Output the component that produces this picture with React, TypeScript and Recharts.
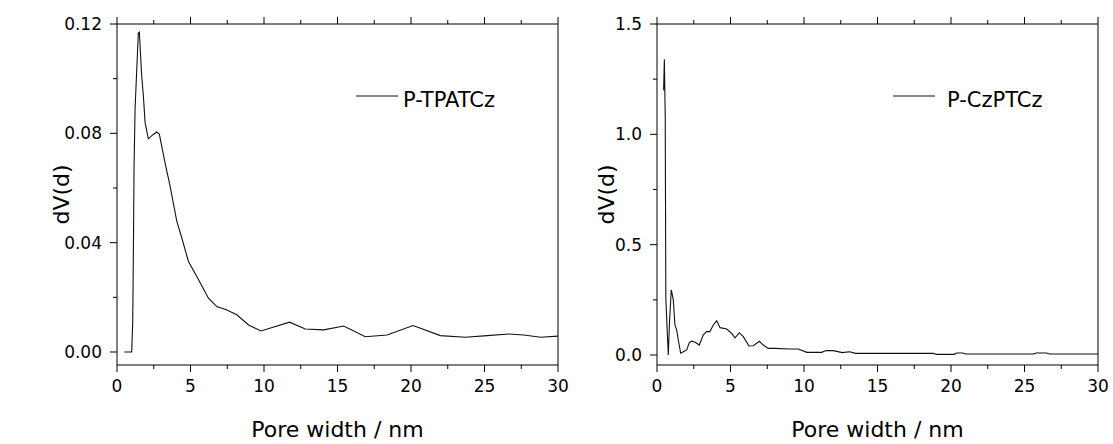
import React from 'react';
import { LineChart, Line, XAxis, YAxis, ReferenceLine, Legend } from 'recharts';

const FONT = '"DejaVu Sans", "Liberation Sans", Arial, sans-serif';

// Left panel: P-TPATCz
const leftPoreWidth = [0.5, 1.0, 1.07, 1.12, 1.16, 1.23, 1.34, 1.45, 1.52, 1.68, 1.79, 1.91, 2.13, 2.45, 2.7, 2.88, 3.04, 3.27, 3.61, 4.07, 4.41, 4.86, 5.43, 6.22, 6.79, 7.47, 8.15, 8.95, 9.79, 11.74, 12.81, 14.06, 15.42, 16.89, 18.37, 20.14, 22.0, 23.7, 25.18, 26.66, 27.68, 28.82, 30];
const leftDv = [0, 0, 0.011, 0.04, 0.068, 0.089, 0.103, 0.1167, 0.117, 0.101, 0.094, 0.084, 0.078, 0.0795, 0.0805, 0.0797, 0.0753, 0.0692, 0.0607, 0.0478, 0.0417, 0.0331, 0.0276, 0.0197, 0.0166, 0.0154, 0.0136, 0.0099, 0.0077, 0.0109, 0.0084, 0.0081, 0.0095, 0.0056, 0.0062, 0.0097, 0.006, 0.0054, 0.006, 0.0066, 0.0062, 0.0054, 0.0058];

// Right panel: P-CzPTCz
const rightPoreWidth = [0.45, 0.5, 0.56, 0.6, 0.7, 0.77, 0.85, 0.97, 1.02, 1.11, 1.22, 1.34, 1.45, 1.61, 1.79, 2.02, 2.2, 2.36, 2.6, 2.88, 3.15, 3.38, 3.6, 3.83, 4.06, 4.29, 4.74, 5.08, 5.31, 5.6, 5.87, 6.26, 6.55, 6.96, 7.23, 7.57, 8.03, 9.05, 9.6, 10.2, 11.2, 11.5, 12.0, 12.6, 13.1, 13.5, 18.8, 19.0, 20.2, 20.4, 20.8, 21.0, 25.6, 25.8, 26.5, 26.7, 30];
const rightDv = [1.2, 1.34, 1.08, 0.26, 0.1, 0.0, 0.15, 0.295, 0.28, 0.249, 0.136, 0.113, 0.068, 0.008, 0.015, 0.023, 0.056, 0.063, 0.058, 0.045, 0.091, 0.106, 0.106, 0.136, 0.155, 0.124, 0.118, 0.098, 0.078, 0.101, 0.083, 0.041, 0.042, 0.062, 0.045, 0.03, 0.03, 0.027, 0.027, 0.012, 0.012, 0.02, 0.02, 0.011, 0.015, 0.0075, 0.0075, 0.003, 0.003, 0.009, 0.009, 0.0045, 0.0045, 0.009, 0.009, 0.0045, 0.0045];

const xTicks = [0, 2.5, 5, 7.5, 10, 12.5, 15, 17.5, 20, 22.5, 25, 27.5, 30];
const leftYTicks = [0, 0.02, 0.04, 0.06, 0.08, 0.1, 0.12];
const rightYTicks = [0, 0.25, 0.5, 0.75, 1.0, 1.25, 1.5];

const leftData = leftPoreWidth.map((x, i) => ({ x, y: leftDv[i] }));
const rightData = rightPoreWidth.map((x, i) => ({ x, y: rightDv[i] }));

const BottomTick = (props: any) => {
  const { x, y, payload } = props;
  const major = Math.round(payload.value / 2.5) % 2 === 0;
  return (
    <g>
      <line x1={x} x2={x} y1={y} y2={y + (major ? 7 : 4)} stroke="#000" strokeWidth={1} />
      {major && (
        <text x={x} y={y + 27} textAnchor="middle" fontFamily={FONT} fontSize={17} fill="#000">
          {payload.value}
        </text>
      )}
    </g>
  );
};

const TopTick = (props: any) => {
  const { x, y, payload } = props;
  const major = Math.round(payload.value / 2.5) % 2 === 0;
  return <line x1={x} x2={x} y1={y} y2={y - (major ? 7 : 4)} stroke="#000" strokeWidth={1} />;
};

const makeLeftTick = (step: number, digits: number) => (props: any) => {
  const { x, y, payload } = props;
  const major = Math.round(payload.value / step) % 2 === 0;
  return (
    <g>
      <line x1={x} x2={x - (major ? 7 : 4)} y1={y} y2={y} stroke="#000" strokeWidth={1} />
      {major && (
        <text x={x - 15} y={y + 6} textAnchor="end" fontFamily={FONT} fontSize={17} fill="#000">
          {payload.value.toFixed(digits)}
        </text>
      )}
    </g>
  );
};

const LeftYTick = makeLeftTick(0.02, 2);
const RightYTick = makeLeftTick(0.25, 1);

const makeYTitle = (cxOffset: number) => (p: any) => {
  const vb = p.viewBox || { x: 0, y: 24, width: 100, height: 341 };
  const cx = vb.x + cxOffset;
  const cy = vb.y + vb.height / 2;
  return (
    <text
      x={cx}
      y={cy}
      transform={`rotate(-90 ${cx} ${cy})`}
      textAnchor="middle"
      dominantBaseline="central"
      fontFamily={FONT}
      fontSize={22}
      fill="#000"
    >
      dV(d)
    </text>
  );
};

const makeLegend = (name: string, textX: number) => () => (
  <svg width={220} height={34} style={{ display: 'block', overflow: 'visible' }}>
    <line x1={0} x2={42} y1={16} y2={16} stroke="#111" strokeWidth={1} />
    <text x={textX} y={26.7} fontFamily={FONT} fontSize={21} fill="#000">
      {name}
    </text>
  </svg>
);

const Panel = (props: {
  data: { x: number; y: number }[];
  width: number;
  yAxisWidth: number;
  rightMargin: number;
  yDomain: [number, number];
  yTicks: number[];
  YTick: any;
  yTitleX: number;
  name: string;
  legendLeft: number;
  legendTextX: number;
}) => (
  <LineChart
    width={props.width}
    height={444}
    data={props.data}
    margin={{ top: 20, right: props.rightMargin, bottom: 0, left: 0 }}
  >
    <XAxis
      xAxisId="bottom"
      type="number"
      dataKey="x"
      domain={[0, 30]}
      ticks={xTicks}
      interval={0}
      height={79}
      tickSize={0}
      tickMargin={0}
      tickLine={false}
      axisLine={{ stroke: '#000', strokeWidth: 1 }}
      tick={<BottomTick />}
      label={{
        value: 'Pore width / nm',
        position: 'insideBottom',
        offset: 7,
        style: { fontFamily: FONT, fontSize: 22, fill: '#000' },
      }}
    />
    <XAxis
      xAxisId="top"
      orientation="top"
      type="number"
      dataKey="x"
      domain={[0, 30]}
      ticks={xTicks}
      interval={0}
      height={4}
      tickSize={0}
      tickMargin={0}
      tickLine={false}
      axisLine={{ stroke: '#000', strokeWidth: 1 }}
      tick={<TopTick />}
    />
    <YAxis
      type="number"
      domain={props.yDomain}
      allowDataOverflow
      ticks={props.yTicks}
      interval={0}
      width={props.yAxisWidth}
      tickSize={0}
      tickMargin={0}
      tickLine={false}
      axisLine={{ stroke: '#000', strokeWidth: 1 }}
      tick={<props.YTick />}
      label={{ content: makeYTitle(props.yTitleX) }}
    />
    <ReferenceLine xAxisId="bottom" x={30} stroke="#000" strokeWidth={1} />
    <Legend
      layout="horizontal"
      verticalAlign="middle"
      align="center"
      wrapperStyle={{ left: props.legendLeft, top: 80, width: 220, height: 34 }}
      content={makeLegend(props.name, props.legendTextX)}
    />
    <Line
      xAxisId="bottom"
      type="linear"
      dataKey="y"
      name={props.name}
      stroke="#111"
      strokeWidth={1.1}
      dot={false}
      activeDot={false}
      isAnimationActive={false}
    />
  </LineChart>
);

export default function App() {
  return (
    <div style={{ position: 'absolute', left: 0, top: 0, width: 1113, height: 444, background: '#fff' }}>
      <div style={{ position: 'absolute', left: 0, top: 0 }}>
        <Panel
          data={leftData}
          width={580}
          yAxisWidth={117}
          rightMargin={22}
          yDomain={[-0.00476, 0.12]}
          yTicks={leftYTicks}
          YTick={LeftYTick}
          yTitleX={61}
          name="P-TPATCz"
          legendLeft={356}
          legendTextX={47}
        />
      </div>
      <div style={{ position: 'absolute', left: 580, top: 0 }}>
        <Panel
          data={rightData}
          width={533}
          yAxisWidth={77}
          rightMargin={15}
          yDomain={[-0.0453, 1.5]}
          yTicks={rightYTicks}
          YTick={RightYTick}
          yTitleX={26}
          name="P-CzPTCz"
          legendLeft={313}
          legendTextX={54}
        />
      </div>
    </div>
  );
}
